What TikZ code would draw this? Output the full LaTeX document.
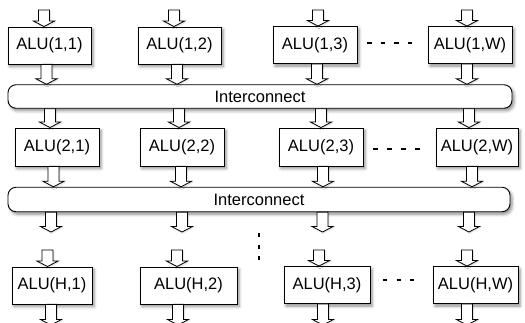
\documentclass[tikz,border=0pt]{standalone}
\usepackage{fontspec}
\setmainfont{Liberation Sans}
\usetikzlibrary{calc,shadows.blur}

\tikzset{
  alu/.style={draw=black, line width=0.9pt, fill=white, rectangle,
    font=\fontsize{16.5}{18}\selectfont, inner sep=0pt,
    blur shadow={shadow xshift=2pt, shadow yshift=-2.5pt, shadow blur radius=3pt, shadow opacity=45}},
  bus/.style={alu, rounded corners=8pt},
  barrow/.style={draw=black, line width=0.8pt, fill=white, line join=miter,
    blur shadow={shadow xshift=0.8pt, shadow yshift=-1pt, shadow blur radius=1.5pt, shadow opacity=18}},
  dots/.style={line width=2.3pt, black}
}

% block arrow at x=#1 (px), from the y of #2 down to the y of #3
\newcommand\blockarrow[3]{%
  \draw[barrow] let \p1=(#2), \p2=(#3) in
    ({#1pt-5.5pt},\y1) -- ({#1pt+5.5pt},\y1) -- ({#1pt+5.5pt},\y2+5.5pt)
    -- ({#1pt+10.5pt},\y2+5.5pt) -- ({#1pt},\y2) -- ({#1pt-10.5pt},\y2+5.5pt)
    -- ({#1pt-5.5pt},\y2+5.5pt) -- cycle;}

\begin{document}
\begin{tikzpicture}[x=1pt, y=-1pt]
\useasboundingbox (0,0) rectangle (525,322);

% free ends of the arrows
\coordinate (feedin) at (0,10);
\coordinate (gapa) at (0,232);
\coordinate (gapb) at (0,250);
\coordinate (feedout) at (0,325);

% row 1
\node[alu, minimum width=83pt, minimum height=37pt] (a11) at (49.5,45.5) {ALU(1,1)};
\node[alu, minimum width=83pt, minimum height=37pt] (a12) at (179.5,45.5) {ALU(1,2)};
\node[alu, minimum width=84pt, minimum height=37pt] (a13) at (315,45) {ALU(1,3)};
\node[alu, minimum width=84pt, minimum height=37pt] (a1W) at (470,45) {ALU(1,W)};

% first interconnect
\node[bus, minimum width=504pt, minimum height=23.5pt] (ic1) at (260,96.5) {Interconnect};

% row 2
\node[alu, minimum width=84pt, minimum height=38pt] (a21) at (57,147) {ALU(2,1)};
\node[alu, minimum width=84pt, minimum height=38pt] (a22) at (182,147) {ALU(2,2)};
\node[alu, minimum width=84pt, minimum height=38pt] (a23) at (321,147) {ALU(2,3)};
\node[alu, minimum width=82pt, minimum height=38pt] (a2W) at (477,147) {ALU(2,W)};

% second interconnect
\node[bus, minimum width=502pt, minimum height=24.5pt] (ic2) at (259,199.5) {Interconnect};

% row H
\node[alu, minimum width=80pt, minimum height=37pt] (aH1) at (52,285.5) {ALU(H,1)};
\node[alu, minimum width=97pt, minimum height=37pt] (aH2) at (188.5,285.5) {ALU(H,2)};
\node[alu, minimum width=86pt, minimum height=37pt] (aH3) at (327,285) {ALU(H,3)};
\node[alu, minimum width=85pt, minimum height=37pt] (aHW) at (475.5,285) {ALU(H,W)};

% arrows into row 1
\blockarrow{44}{feedin}{a11.north}
\blockarrow{174}{feedin}{a12.north}
\blockarrow{318}{feedin}{a13.north}
\blockarrow{467}{feedin}{a1W.north}
% row 1 to interconnect
\blockarrow{46.5}{a11.south}{ic1.north}
\blockarrow{177}{a12.south}{ic1.north}
\blockarrow{317}{a13.south}{ic1.north}
\blockarrow{467}{a1W.south}{ic1.north}
% interconnect to row 2
\blockarrow{50}{ic1.south}{a21.north}
\blockarrow{179}{ic1.south}{a22.north}
\blockarrow{321}{ic1.south}{a23.north}
\blockarrow{469}{ic1.south}{a2W.north}
% row 2 to interconnect
\blockarrow{53.5}{a21.south}{ic2.north}
\blockarrow{181}{a22.south}{ic2.north}
\blockarrow{323}{a23.south}{ic2.north}
\blockarrow{472}{a2W.south}{ic2.north}
% out of the second interconnect
\blockarrow{51}{ic2.south}{gapa}
\blockarrow{182}{ic2.south}{gapa}
\blockarrow{322.5}{ic2.south}{gapa}
\blockarrow{469}{ic2.south}{gapa}
% into row H
\blockarrow{47.5}{gapb}{aH1.north}
\blockarrow{177}{gapb}{aH2.north}
\blockarrow{319}{gapb}{aH3.north}
\blockarrow{467}{gapb}{aHW.north}
% out of row H
\blockarrow{51}{aH1.south}{feedout}
\blockarrow{178}{aH2.south}{feedout}
\blockarrow{323}{aH3.south}{feedout}
\blockarrow{467}{aHW.south}{feedout}

% ellipses
\draw[dots, dash pattern=on 4.5pt off 9pt] (367,43) -- (413,43);
\draw[dots, dash pattern=on 4.5pt off 9.5pt] (373,149) -- (420,149);
\draw[dots, dash pattern=on 4pt off 9.5pt] (383,280) -- (414,280);
\draw[dots, line width=2pt, dash pattern=on 4pt off 7.5pt] (259,233) -- (259,260);
\end{tikzpicture}
\end{document}
